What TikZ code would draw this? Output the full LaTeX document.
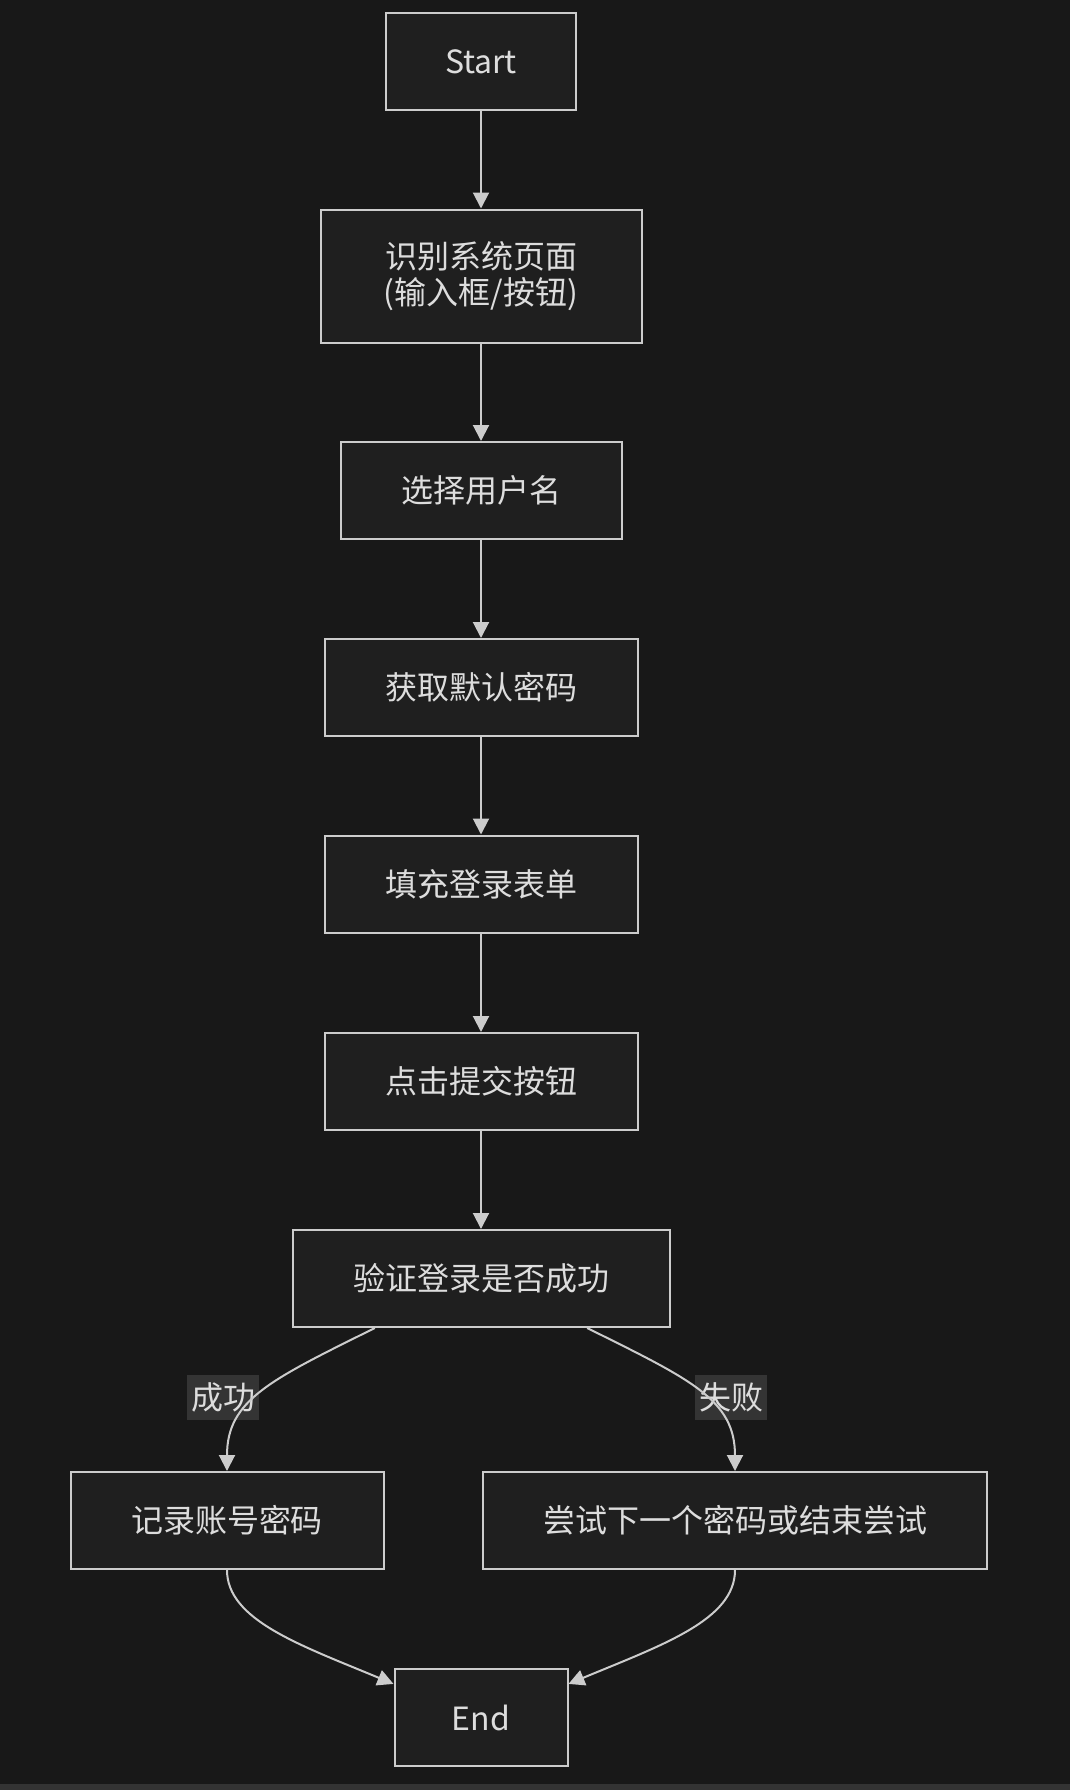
\documentclass[tikz,border=0pt]{standalone}
\usepackage{fontspec}
\usepackage{xcolor}
\usetikzlibrary{arrows.meta}
\setmainfont{Noto Sans CJK SC}

\definecolor{bgcol}{HTML}{181818}
\definecolor{stripcol}{HTML}{333333}
\definecolor{boxfill}{HTML}{1F1F1F}
\definecolor{linecol}{HTML}{CCCCCC}
\definecolor{txtcol}{HTML}{DDDDDD}
\definecolor{lblfill}{HTML}{3B3B3B}

\tikzset{
  stepbox/.style={draw=linecol, fill=boxfill, line width=1pt, inner sep=0pt,
    minimum height=48.5pt, text=txtcol, align=center,
    font={\fontsize{16}{17.75}\selectfont}},
  flow/.style={draw=linecol, line width=1pt, -{Triangle[width=8pt,length=8pt]}},
  edgelabel/.style={fill=lblfill, fill opacity=0.8, text opacity=1, text=txtcol,
    inner sep=0pt, minimum width=36pt, minimum height=22.5pt,
    font={\fontsize{16}{17.75}\selectfont}}
}

\begin{document}
\begin{tikzpicture}[x=0.5pt, y=-0.5pt]
\useasboundingbox (0,0) rectangle (1070,1790);
\fill[bgcol] (0,0) rectangle (1070,1790);
\fill[stripcol] (0,1784) rectangle (1070,1790);

% main column
\node[stepbox, minimum width=95pt] (start) at (481,61.5) {Start};
\node[stepbox, minimum width=160.5pt, minimum height=66.5pt] (page) at (481,276) {识别系统页面\\(输入框/按钮)};
\node[stepbox, minimum width=140.5pt] (user) at (481,490.5) {选择用户名};
\node[stepbox, minimum width=156.5pt] (pwd) at (481,687.5) {获取默认密码};
\node[stepbox, minimum width=156.5pt] (fill) at (481,884) {填充登录表单};
\node[stepbox, minimum width=156.5pt] (submit) at (481,1081.5) {点击提交按钮};
\node[stepbox, minimum width=188.5pt] (check) at (481,1278.5) {验证登录是否成功};

% branches
\node[stepbox, minimum width=156.5pt] (record) at (227,1520.5) {记录账号密码};
\node[stepbox, minimum width=252pt] (retry) at (735,1520.5) {尝试下一个密码或结束尝试};
\node[stepbox, minimum width=86.5pt] (end) at (481,1717.5) {End};

\draw[flow] (start) -- (page);
\draw[flow] (page) -- (user);
\draw[flow] (user) -- (pwd);
\draw[flow] (pwd) -- (fill);
\draw[flow] (fill) -- (submit);
\draw[flow] (submit) -- (check);

\node[edgelabel] (okl) at (223,1397) {成功};
\node[edgelabel] (faill) at (731,1397) {失败};

\draw[flow] (check.205) .. controls (270,1380) and (227,1400) .. (record.north);
\draw[flow] (check.335) .. controls (692,1380) and (735,1400) .. (retry.north);
\draw[flow] (record.south) .. controls (227,1620) and (300,1645) .. (end.159);
\draw[flow] (retry.south) .. controls (735,1620) and (662,1645) .. (end.21);
\end{tikzpicture}
\end{document}
